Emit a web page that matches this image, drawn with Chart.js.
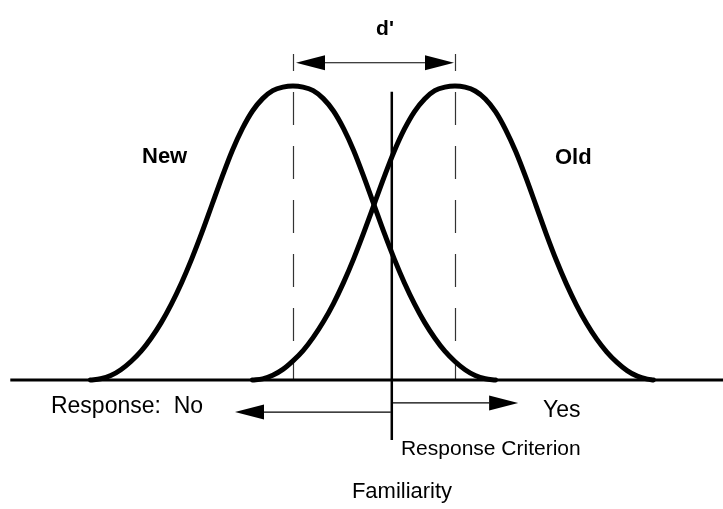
<!DOCTYPE html>
<html>
<head>
<meta charset="utf-8">
<script src="https://cdn.jsdelivr.net/npm/chart.js@4.4.1/dist/chart.umd.min.js"></script>
<style>
  html, body { margin: 0; padding: 0; background: #ffffff; }
  #wrap { width: 723px; height: 509px; position: relative; }
</style>
</head>
<body>
<div id="wrap"><canvas id="c" width="723" height="509"></canvas></div>
<script>
// ---- Data (familiarity units; density normalised so peak = 1) ----
const newX = [-3.5,-3.375,-3.25,-3.125,-3.0,-2.875,-2.75,-2.625,-2.5,-2.375,-2.25,-2.125,-2.0,-1.875,-1.75,-1.625,-1.5,-1.375,-1.25,-1.125,-1.0,-0.875,-0.75,-0.625,-0.5,-0.375,-0.25,-0.125,0,0.125,0.25,0.375,0.5,0.625,0.75,0.875,1.0,1.125,1.25,1.375,1.5];
const newY = [0,0.004,0.015,0.035,0.063,0.098,0.143,0.196,0.259,0.331,0.412,0.501,0.596,0.691,0.780,0.855,0.915,0.957,0.984,0.996,1.0,0.996,0.984,0.957,0.915,0.855,0.780,0.691,0.596,0.501,0.412,0.331,0.259,0.196,0.143,0.098,0.063,0.035,0.015,0.004,0];
const oldX = [-1.5,-1.375,-1.25,-1.125,-1.0,-0.875,-0.75,-0.625,-0.5,-0.375,-0.25,-0.125,0,0.125,0.25,0.375,0.5,0.625,0.75,0.875,1.0,1.125,1.25,1.375,1.5,1.625,1.75,1.875,2.0,2.125,2.25,2.375,2.5,2.625,2.75,2.875,3.0,3.125,3.25,3.375,3.45];
const oldY = [0,0.004,0.016,0.036,0.065,0.100,0.145,0.198,0.260,0.332,0.413,0.502,0.596,0.690,0.778,0.853,0.913,0.956,0.984,0.996,1.0,0.996,0.983,0.956,0.913,0.852,0.777,0.689,0.594,0.498,0.408,0.327,0.255,0.192,0.139,0.095,0.060,0.032,0.013,0.003,0];
const axisX = [-4.49, 4.31];
const means = [-1.0, 1.0];          // New mean, Old mean (d' between them)
const criterion = 0.22;             // response criterion
const labels = { dprime: "d'", newL: "New", oldL: "Old", no: "Response:  No", yes: "Yes", crit: "Response Criterion", axis: "Familiarity" };

const toPts = (xs, ys) => xs.map((x, i) => ({ x: x, y: ys[i] }));

const FONT = '"Liberation Sans", Arial, Helvetica, sans-serif';

const annot = {
  id: 'annot',
  beforeDatasetsDraw(chart) {
    const ctx = chart.ctx, xs = chart.scales.x, ys = chart.scales.y;
    ctx.save();
    ctx.strokeStyle = '#333';
    ctx.lineWidth = 1.2;
    ctx.setLineDash([33, 21]);
    ctx.lineDashOffset = 16;
    means.forEach(m => {
      const px = Math.round(xs.getPixelForValue(m)) + 0.5;
      ctx.beginPath();
      ctx.moveTo(px, ys.getPixelForValue(1.109));
      ctx.lineTo(px, ys.getPixelForValue(0));
      ctx.stroke();
    });
    ctx.restore();
  },
  afterDatasetsDraw(chart) {
    const ctx = chart.ctx, xs = chart.scales.x, ys = chart.scales.y;
    const X = v => xs.getPixelForValue(v), Y = v => ys.getPixelForValue(v);
    ctx.save();
    ctx.fillStyle = '#000';
    ctx.strokeStyle = '#000';

    function arrow(x0, x1, y, w) {
      const dir = x1 > x0 ? 1 : -1;
      const L = 29, H = 7.5;
      ctx.lineWidth = w;
      ctx.beginPath();
      ctx.moveTo(x0, y);
      ctx.lineTo(x1 - dir * L, y);
      ctx.stroke();
      ctx.beginPath();
      ctx.moveTo(x1, y);
      ctx.lineTo(x1 - dir * L, y - H);
      ctx.lineTo(x1 - dir * L, y + H);
      ctx.closePath();
      ctx.fill();
    }

    // d' arrow
    const yd = Y(1.079);
    const xl = X(means[0]) + 3, xr = X(means[1]) - 1;
    ctx.lineWidth = 1.2;
    ctx.beginPath();
    ctx.moveTo(xl + 29, yd); ctx.lineTo(xr - 29, yd); ctx.stroke();
    arrow(xl + 29, xl, yd, 1.2);
    arrow(xr - 29, xr, yd, 1.2);

    // criterion line
    ctx.lineWidth = 2.5;
    ctx.beginPath();
    ctx.moveTo(X(criterion), Y(0.98));
    ctx.lineTo(X(criterion), Y(-0.204));
    ctx.stroke();

    // response arrows
    arrow(X(criterion) - 1, X(-1.716), Y(-0.109), 1.2);
    arrow(X(criterion) + 1, X(1.78), Y(-0.078), 1.2);

    // texts
    ctx.textBaseline = 'alphabetic';
    ctx.textAlign = 'center';
    ctx.font = 'bold 21px ' + FONT;
    ctx.fillText(labels.dprime, X(0.136), Y(1.175));
    ctx.textAlign = 'left';
    ctx.font = 'bold 22px ' + FONT;
    ctx.fillText(labels.newL, X(-2.864), Y(0.738));
    ctx.fillText(labels.oldL, X(2.235), Y(0.735));
    ctx.font = '23px ' + FONT;
    ctx.fillText(labels.no, X(-3.988), Y(-0.112));
    ctx.fillText(labels.yes, X(2.086), Y(-0.126));
    ctx.font = '21px ' + FONT;
    ctx.fillText(labels.crit, X(0.333), Y(-0.255));
    ctx.textAlign = 'center';
    ctx.font = '22px ' + FONT;
    ctx.fillText(labels.axis, X(0.346), Y(-0.401));
    ctx.restore();
  }
};

new Chart(document.getElementById('c'), {
  type: 'line',
  data: {
    datasets: [
      { label: 'Axis', data: toPts(axisX, [0, 0]), borderColor: '#000', borderWidth: 3, pointRadius: 0 },
      { label: 'New', data: toPts(newX, newY), borderColor: '#000', borderWidth: 5, pointRadius: 0, cubicInterpolationMode: 'monotone', borderCapStyle: 'round', borderJoinStyle: 'round' },
      { label: 'Old', data: toPts(oldX, oldY), borderColor: '#000', borderWidth: 5, pointRadius: 0, cubicInterpolationMode: 'monotone', borderCapStyle: 'round', borderJoinStyle: 'round' }
    ]
  },
  options: {
    responsive: false,
    devicePixelRatio: 1,
    animation: false,
    layout: { padding: 0 },
    plugins: { legend: { display: false }, tooltip: { enabled: false } },
    scales: {
      x: { type: 'linear', min: -4.617, max: 4.309, display: false },
      y: { type: 'linear', min: -0.4388, max: 1.2925, display: false }
    }
  },
  plugins: [annot]
});
</script>
</body>
</html>
